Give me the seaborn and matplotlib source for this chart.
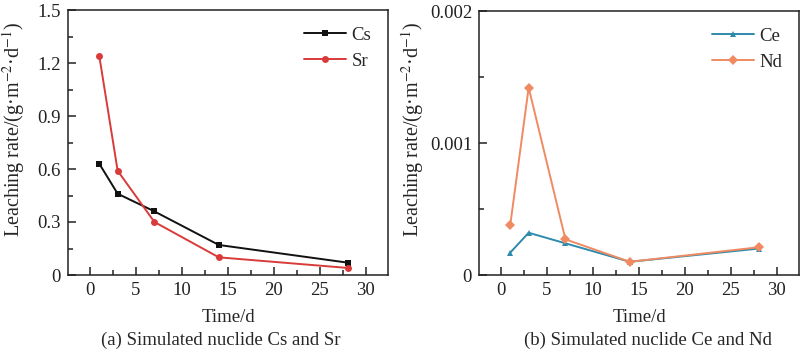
import matplotlib
matplotlib.use("Agg")
import matplotlib.pyplot as plt
import seaborn as sns
import pandas as pd
from matplotlib.ticker import FixedLocator, MultipleLocator

sns.set_theme(style="ticks")
plt.rcParams['font.family'] = ['Liberation Serif', 'DejaVu Serif']
plt.rcParams['mathtext.fontset'] = 'stix'

time_d = [1, 3, 7, 14, 28]
cs = [0.63, 0.46, 0.36, 0.17, 0.07]
sr = [1.24, 0.59, 0.30, 0.10, 0.04]
ce = [0.00017, 0.00032, 0.00024, 0.00010, 0.00020]
nd = [0.00038, 0.00142, 0.00027, 0.00010, 0.00021]

x_ticks = [0, 5, 10, 15, 20, 25, 30]
y_ticks_a = [0, 0.3, 0.6, 0.9, 1.2, 1.5]
y_labels_a = ["0", "0.3", "0.6", "0.9", "1.2", "1.5"]
y_ticks_b = [0, 0.001, 0.002]
y_labels_b = ["0", "0.001", "0.002"]

ylabel = r'Leaching rate/(g·m$^{-2}$·d$^{-1}$)'

fig = plt.figure(figsize=(8.03, 3.51), dpi=100)
W, H = 803, 351
ax1 = fig.add_axes([68 / W, (H - 275) / H, 320 / W, 265 / H])
ax2 = fig.add_axes([479 / W, (H - 275) / H, 320 / W, 264 / H])

dfa = pd.DataFrame({"t": time_d * 2, "v": cs + sr, "s": ["Cs"] * 5 + ["Sr"] * 5})
dfb = pd.DataFrame({"t": time_d * 2, "v": ce + nd, "s": ["Ce"] * 5 + ["Nd"] * 5})

sns.lineplot(data=dfa, x="t", y="v", hue="s", style="s",
             palette={"Cs": "#111111", "Sr": "#d93a3a"},
             markers={"Cs": "s", "Sr": "o"}, dashes=False,
             markersize=5, linewidth=1.4, markeredgewidth=0, ax=ax1)
sns.lineplot(data=dfb, x="t", y="v", hue="s", style="s",
             palette={"Ce": "#2e8bab", "Nd": "#ef8a62"},
             markers={"Ce": "^", "Nd": "D"}, dashes=False,
             markersize=5, linewidth=1.4, markeredgewidth=0, ax=ax2)

for ax, yt, yl, ylim, minor, cap, capx, ylx in [
    (ax1, y_ticks_a, y_labels_a, (0, 1.5), 0.15, "(a) Simulated nuclide Cs and Sr", 221, 14),
    (ax2, y_ticks_b, y_labels_b, (0, 0.002), 0.0005, "(b) Simulated nuclide Ce and Nd", 648, 413),
]:
    ax.set_xlim(-2.4, 32.4)
    ax.set_ylim(*ylim)
    ax.set_xticks(x_ticks)
    ax.set_xticklabels([str(v) for v in x_ticks])
    ax.xaxis.set_minor_locator(MultipleLocator(2.5))
    ax.yaxis.set_major_locator(FixedLocator(yt))
    ax.set_yticklabels(yl)
    ax.yaxis.set_minor_locator(MultipleLocator(minor))
    ax.tick_params(axis='both', which='both', direction='in', top=False, right=False,
                   labelsize=13.5, colors='#222222', width=1.1, pad=5)
    ax.tick_params(axis='both', which='major', length=6)
    ax.tick_params(axis='both', which='minor', length=3.5)
    for sp in ax.spines.values():
        sp.set_linewidth(1.1)
        sp.set_color('#222222')
    ax.set_xlabel("Time/d", fontsize=13.5, labelpad=7)
    ax.set_ylabel(ylabel, fontsize=14.5)
    bb = ax.get_position()
    ax.yaxis.set_label_coords((ylx / W - bb.x0) / bb.width, ((H - 129) / H - bb.y0) / bb.height)
    ax.yaxis.label.set_va('center')
    fig.text(capx / W, (H - 340) / H, cap, ha='center', va='center', fontsize=13.5)
    leg = ax.legend(loc='upper right', frameon=False, fontsize=13.5, handlelength=2.2,
                    borderaxespad=0.5, labelspacing=0.45, handletextpad=0.3, title=None)

fig.savefig("out.png", dpi=100)
